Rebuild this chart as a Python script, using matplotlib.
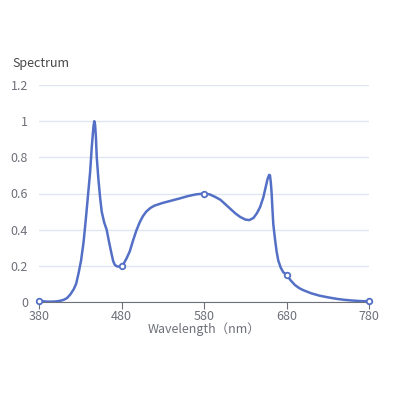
import matplotlib.pyplot as plt
import numpy as np

plt.rcParams['font.family'] = ['Noto Sans CJK SC', 'DejaVu Sans']

# wavelength (nm) and relative spectrum
wavelength = [380, 385, 390, 395, 400, 405, 410, 414, 418, 422, 425, 428, 431,
              434, 437, 440, 442, 444, 446, 447, 448, 449, 450, 452, 454, 456,
              459, 462, 465, 468, 470, 472, 475, 478, 480, 483, 486, 490, 494,
              498, 502, 506, 510, 515, 520, 530, 540, 550, 560, 570, 580, 587,
              594, 600, 606, 612, 618, 624, 630, 635, 640, 644, 648, 652, 655,
              657, 659, 660, 661, 662, 663, 664, 666, 668, 670, 673, 676, 680,
              685, 690, 695, 700, 710, 720, 730, 740, 750, 760, 770, 780]
spectrum = [0.008, 0.004, 0.002, 0.002, 0.003, 0.006, 0.012, 0.022, 0.042,
            0.07, 0.1, 0.16, 0.23, 0.33, 0.47, 0.62, 0.72, 0.86, 0.97, 1.0,
            0.98, 0.91, 0.8, 0.68, 0.58, 0.5, 0.44, 0.4, 0.33, 0.265, 0.225,
            0.205, 0.196, 0.197, 0.2, 0.215, 0.24, 0.28, 0.34, 0.395, 0.44,
            0.475, 0.5, 0.52, 0.533, 0.548, 0.56, 0.572, 0.585, 0.595, 0.6,
            0.595, 0.58, 0.565, 0.54, 0.515, 0.49, 0.47, 0.456, 0.453, 0.465,
            0.49, 0.525, 0.58, 0.64, 0.68, 0.703, 0.7, 0.66, 0.6, 0.51, 0.43,
            0.35, 0.28, 0.23, 0.19, 0.165, 0.15, 0.12, 0.095, 0.078, 0.066,
            0.048, 0.035, 0.026, 0.018, 0.012, 0.008, 0.005, 0.004]
marked = [380, 480, 580, 680, 780]
x_ticks = [380, 480, 580, 680, 780]
y_ticks = [0, 0.2, 0.4, 0.6, 0.8, 1, 1.2]
y_labels = ['0', '0.2', '0.4', '0.6', '0.8', '1', '1.2']

line_col = '#5470c6'
txt_col = '#6e7079'

fig = plt.figure(figsize=(4.08, 3.99), dpi=100)
ax = fig.add_axes([39/408, 97/399, 330/408, 217/399])

ax.plot(wavelength, spectrum, color=line_col, lw=1.8, zorder=3,
        solid_joinstyle='round')
mx = [w for w in wavelength if w in marked]
my = [s for w, s in zip(wavelength, spectrum) if w in marked]
ax.plot(mx, my, ls='none', marker='o', ms=4, mfc='white', mec=line_col,
        mew=1.3, zorder=4, clip_on=False)

ax.set_xlim(380, 780)
ax.set_ylim(0, 1.2)
ax.set_xticks(x_ticks)
ax.set_yticks(y_ticks)
ax.set_yticklabels(y_labels)
ax.grid(axis='y', color='#e0e6f1', lw=1)
ax.set_axisbelow(True)
for s in ['top', 'right', 'left']:
    ax.spines[s].set_visible(False)
ax.spines['bottom'].set_color(txt_col)
ax.tick_params(axis='x', colors=txt_col, labelcolor=txt_col, length=5,
               labelsize=9, pad=1)
ax.tick_params(axis='y', length=0, labelcolor=txt_col, labelsize=9, pad=8)
ax.set_xlabel('Wavelength（nm）', color=txt_col, fontsize=9, labelpad=-1)
fig.text(12/408, 1 - 63/399, 'Spectrum', color='#464646', fontsize=9,
         ha='left', va='center')

fig.savefig('out.png', dpi=100)
